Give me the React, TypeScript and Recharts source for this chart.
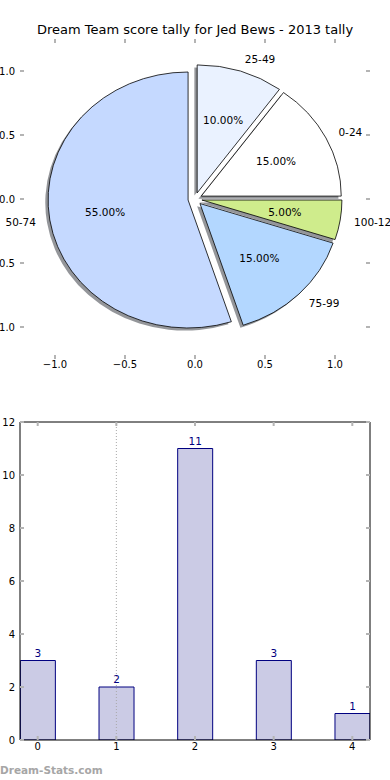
import React from 'react';
import {
    PieChart, Pie, ComposedChart, Bar, XAxis, YAxis,
    LabelList, ReferenceLine
} from 'recharts';

// score bands and how many games fell in each
const scoreBands = ['0-24', '25-49', '50-74', '75-99', '100-124'];
const bandCounts = [3, 2, 11, 3, 1];
const sliceColors = ['#ffffff', '#eaf2ff', '#c5d9ff', '#b3d7ff', '#cfec8c'];
const barPositions = [0, 1, 2, 3, 4];
const pieTicks = [-1, -0.5, 0, 0.5, 1];
const countTicks = [0, 2, 4, 6, 8, 10, 12];
const gridX = 1;

const pieData = scoreBands.map((name, i) => ({ name, value: bandCounts[i] }));
const barData = barPositions.map((x, i) => ({ x, count: bandCounts[i] }));
const pieAxisData = pieTicks.map((t) => ({ t }));

// the pie axes are not square: 140px per unit across, 128px per unit down
const Y_RATIO = 128 / 140;
const EXPLODE = 0.05;
const RAD = Math.PI / 180;

const tickStyle = { fill: '#000', fontSize: 10 };
const tickLine = { stroke: '#b4b4b4', strokeWidth: 2 };
const fmtPie = (v: number) => v.toFixed(1).replace('-', '\u2212');
const blank = () => '';

function slicePath(p: any, dx = 0, dy = 0) {
    const r = p.outerRadius;
    const ry = r * Y_RATIO;
    const ox = p.cx + EXPLODE * r * Math.cos(p.midAngle * RAD) + dx;
    const oy = p.cy - EXPLODE * ry * Math.sin(p.midAngle * RAD) + dy;
    const x1 = ox + r * Math.cos(p.startAngle * RAD);
    const y1 = oy - ry * Math.sin(p.startAngle * RAD);
    const x2 = ox + r * Math.cos(p.endAngle * RAD);
    const y2 = oy - ry * Math.sin(p.endAngle * RAD);
    const large = Math.abs(p.endAngle - p.startAngle) > 180 ? 1 : 0;
    return `M${ox},${oy} L${x1},${y1} A${r},${ry} 0 ${large} 0 ${x2},${y2} Z`;
}

const bandIndex = (p: any) => {
    const n = p.name ?? p.payload?.name;
    const i = scoreBands.indexOf(n);
    return i < 0 ? (p.index ?? 0) : i;
};

const Wedge = (p: any) => (
    <path d={slicePath(p)} fill={sliceColors[bandIndex(p)]} stroke="#000" strokeWidth={0.8} />
);

const Shadow = (p: any) => (
    <path d={slicePath(p, -2.8, 2.6)} fill="#2a2e36" fillOpacity={0.5} stroke="none" />
);

const renderLabel = (p: any) => {
    const r = p.outerRadius;
    const ry = r * Y_RATIO;
    const cosA = Math.cos(p.midAngle * RAD);
    const sinA = Math.sin(p.midAngle * RAD);
    const ox = p.cx + EXPLODE * r * cosA;
    const oy = p.cy - EXPLODE * ry * sinA;
    const i = bandIndex(p);
    const pct = (bandCounts[i] / bandCounts.reduce((a, b) => a + b, 0)) * 100;
    const lx = ox + 1.1 * r * cosA;
    return (
        <g key={`lbl-${i}`}>
            <text x={lx} y={oy - 1.1 * ry * sinA} textAnchor={cosA > 0 ? 'start' : 'end'}
                dominantBaseline="central" fontSize={10.5} fill="#000">
                {scoreBands[i]}
            </text>
            <text x={ox + 0.6 * r * cosA} y={oy - 0.6 * ry * sinA} textAnchor="middle"
                dominantBaseline="central" fontSize={10.5} fill="#000">
                {pct.toFixed(2)}%
            </text>
        </g>
    );
};

const App = () => {
    return (
        <div style={{
            position: 'absolute', left: 0, top: 0, width: 390, height: 780,
            background: '#fff', fontFamily: '"DejaVu Sans", sans-serif'
        }}>
            <div style={{
                position: 'absolute', top: 22, left: 0, width: 390, textAlign: 'center',
                fontSize: 13, lineHeight: '16px', color: '#000'
            }}>
                Dream Team score tally for Jed Bews - 2013 tally
            </div>

            {/* axes behind the pie */}
            <div style={{ position: 'absolute', top: 0, left: 0 }}>
                <ComposedChart width={390} height={380} data={pieAxisData}
                    margin={{ top: 38, right: 0, bottom: 0, left: 0 }}>
                    <XAxis xAxisId="b" dataKey="t" type="number" domain={[-1.25, 1.25]} ticks={pieTicks}
                        allowDataOverflow height={21} axisLine={false} tickSize={-4} tickMargin={6}
                        tick={tickStyle} tickLine={tickLine} tickFormatter={fmtPie} />
                    <XAxis xAxisId="t" dataKey="t" orientation="top" type="number" domain={[-1.25, 1.25]}
                        ticks={pieTicks} allowDataOverflow height={1} axisLine={false} tickSize={-4}
                        tickLine={tickLine} tickFormatter={blank} />
                    <YAxis yAxisId="l" dataKey="t" type="number" domain={[-1.25, 1.25]} ticks={pieTicks}
                        allowDataOverflow width={20} axisLine={false} tickSize={-4} tickMargin={9}
                        tick={tickStyle} tickLine={tickLine} tickFormatter={fmtPie} />
                    <YAxis yAxisId="r" dataKey="t" orientation="right" type="number" domain={[-1.25, 1.25]}
                        ticks={pieTicks} allowDataOverflow width={20} axisLine={false} tickSize={-4}
                        tickLine={tickLine} tickFormatter={blank} />
                </ComposedChart>
            </div>

            <div style={{ position: 'absolute', top: 0, left: 0 }}>
                <PieChart width={390} height={380} margin={{ top: 0, right: 0, bottom: 0, left: 0 }}>
                    <Pie data={pieData} dataKey="value" nameKey="name" cx={195} cy={199}
                        outerRadius={140} startAngle={0} endAngle={360}
                        shape={Shadow} activeShape={Shadow} isAnimationActive={false} />
                    <Pie data={pieData} dataKey="value" nameKey="name" cx={195} cy={199}
                        outerRadius={140} startAngle={0} endAngle={360}
                        shape={Wedge} activeShape={Wedge} label={renderLabel} labelLine={false}
                        isAnimationActive={false} />
                </PieChart>
            </div>

            <div style={{ position: 'absolute', top: 380, left: 0 }}>
                <ComposedChart width={390} height={400} data={barData}
                    margin={{ top: 41, right: 0, bottom: 20, left: 0 }}>
                    <XAxis xAxisId={0} dataKey="x" type="number" domain={[-0.225, 4.225]}
                        ticks={barPositions} allowDataOverflow height={20} tickSize={-4} tickMargin={7}
                        axisLine={{ stroke: '#000' }} tick={tickStyle} tickLine={tickLine} />
                    <XAxis xAxisId="top" dataKey="x" orientation="top" type="number" domain={[-0.225, 4.225]}
                        ticks={barPositions} allowDataOverflow height={1} tickSize={-4}
                        axisLine={{ stroke: '#000' }} tickLine={tickLine} tickFormatter={blank} />
                    <YAxis yAxisId={0} type="number" domain={[0, 12]} ticks={countTicks}
                        allowDataOverflow width={20} tickSize={-4} tickMargin={9}
                        axisLine={{ stroke: '#000' }} tick={tickStyle} tickLine={tickLine} />
                    <YAxis yAxisId="right" orientation="right" type="number" domain={[0, 12]}
                        ticks={countTicks} allowDataOverflow width={20} tickSize={-4}
                        axisLine={{ stroke: '#000' }} tickLine={tickLine} tickFormatter={blank} />
                    <Bar dataKey="count" xAxisId={0} yAxisId={0} barSize={35}
                        fill="#cbcbe5" stroke="#000080" strokeWidth={1} isAnimationActive={false}>
                        <LabelList dataKey="count" position="top" offset={4}
                            fill="#000080" fontSize={10.5} />
                    </Bar>
                    <ReferenceLine x={gridX} xAxisId={0} yAxisId={0} stroke="#a8a8a8"
                        strokeDasharray="1 2" />
                </ComposedChart>
            </div>

            <div style={{
                position: 'absolute', left: 0, top: 763, fontSize: 10.5, fontWeight: 'bold',
                color: '#a6a6a6', lineHeight: '14px'
            }}>
                Dream-Stats.com
            </div>
        </div>
    );
};

export default App;
